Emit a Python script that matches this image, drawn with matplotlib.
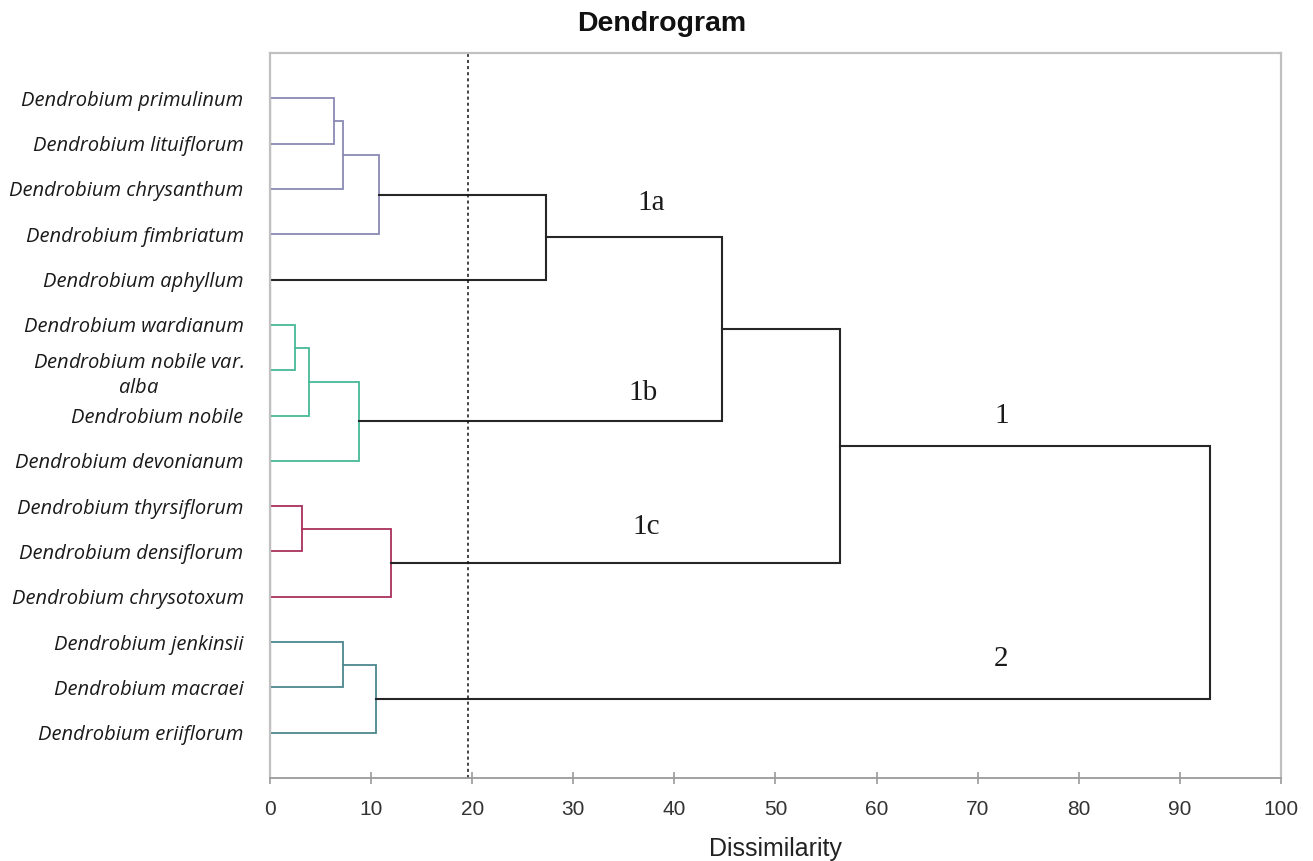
import matplotlib
matplotlib.use("Agg")
import matplotlib.pyplot as plt

# leaves, top to bottom
leaves = [
    "Dendrobium primulinum",
    "Dendrobium lituiflorum",
    "Dendrobium chrysanthum",
    "Dendrobium fimbriatum",
    "Dendrobium aphyllum",
    "Dendrobium wardianum",
    "$\\mathit{Dendrobium\\ nobile}$ var.\n$\\mathit{alba}$",
    "Dendrobium nobile",
    "Dendrobium devonianum",
    "Dendrobium thyrsiflorum",
    "Dendrobium densiflorum",
    "Dendrobium chrysotoxum",
    "Dendrobium jenkinsii",
    "Dendrobium macraei",
    "Dendrobium eriiflorum",
]

# merges: (child a, child b, dissimilarity, colour key); new ids start at 15
merge_a = [0, 15, 16, 17, 5, 19, 20, 18, 9, 23, 22, 12, 26, 25]
merge_b = [1, 2, 3, 4, 6, 7, 8, 21, 10, 11, 24, 13, 14, 27]
merge_h = [6.35, 7.25, 10.77, 27.3, 2.44, 3.82, 8.8, 44.7, 3.2, 11.96, 56.4, 7.25, 10.47, 92.95]
merge_c = ["p", "p", "p", "k", "g", "g", "g", "k", "r", "r", "k", "t", "t", "k"]

colors = {"p": "#8a8ab4", "g": "#46b996", "r": "#a8305c", "t": "#4b878d", "k": "#262626"}

cut = 19.6
group_names = ["1a", "1b", "1c", "1", "2"]
group_x = [37.7, 36.9, 37.2, 72.4, 72.3]
group_y = [2.32, 6.5, 9.46, 7.02, 12.38]

plt.rcParams["mathtext.fontset"] = "custom"
plt.rcParams["mathtext.it"] = "Open Sans:italic"
plt.rcParams["mathtext.rm"] = "Open Sans"

fig = plt.figure(figsize=(13.13, 8.61), dpi=100)
ax = fig.add_axes([0.2056, 0.0964, 0.77, 0.842])

n = len(leaves)
pos = {i: (0.0, float(i)) for i in range(n)}
for k in range(len(merge_h)):
    ha, ya = pos[merge_a[k]]
    hb, yb = pos[merge_b[k]]
    h = merge_h[k]
    col = colors[merge_c[k]]
    lw = 1.5 if merge_c[k] == "k" else 1.3
    ax.plot([ha, h, h, hb], [ya, ya, yb, yb], color=col, lw=lw, solid_joinstyle="miter")
    pos[n + k] = (h, (ya + yb) / 2)

ax.plot([0, 0], [0, n - 1], color="#262626", lw=1.5)
ax.axvline(cut, color="#111111", lw=1.1, linestyle=(0, (2, 2)))

for name, gx, gy in zip(group_names, group_x, group_y):
    ax.text(gx, gy, name, fontsize=21, family="Liberation Serif",
            ha="center", va="center", color="#1a1a1a")

ax.set_xlim(0, 100)
ax.set_ylim(15.0, -1.0)
ax.set_xticks(range(0, 101, 10))
ax.set_yticks(range(n))
ax.set_yticklabels(leaves, fontsize=14.5, family="Open Sans", style="italic", color="#1a1a1a")
for lab in ax.get_yticklabels():
    lab.set_multialignment("center")
    lab.set_linespacing(1.35)
ax.tick_params(axis="y", length=0, pad=19)
ax.tick_params(axis="x", direction="inout", length=9, width=1.2, color="#999999",
               labelsize=15, labelcolor="#333333", pad=11)
for t in ax.get_xticklabels():
    t.set_family("Liberation Sans")

for s in ["top", "right", "left"]:
    ax.spines[s].set_color("#c0c0c0")
    ax.spines[s].set_linewidth(1.6)
ax.spines["bottom"].set_color("#9a9a9a")
ax.spines["bottom"].set_linewidth(1.3)

ax.set_xlabel("Dissimilarity", fontsize=18, family="Liberation Sans", color="#222222", labelpad=13)
fig.text(0.504, 0.972, "Dendrogram", fontsize=20.5, fontweight="bold", family="Liberation Sans",
         ha="center", va="center", color="#111111")

fig.savefig("out.png", dpi=100)
